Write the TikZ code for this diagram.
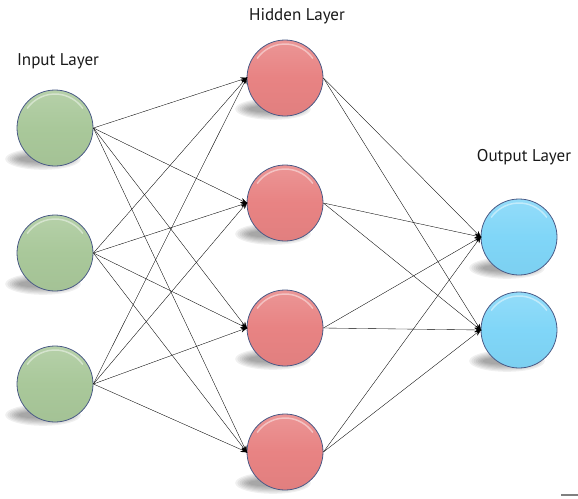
\documentclass[tikz,border=0pt]{standalone}
\usepackage{fontspec}
\setmainfont{PT Sans}
\usetikzlibrary{arrows.meta,calc}
\definecolor{ingreen}{HTML}{A9C89A}
\definecolor{hidred}{HTML}{E88383}
\definecolor{outblue}{HTML}{80D6F8}
\definecolor{rimcol}{HTML}{4A5A86}
\tikzset{
  neuron/.style={circle, minimum size=76pt, inner sep=0pt, draw=rimcol, line width=0.8pt},
  inneuron/.style={neuron, top color=ingreen!85!white, bottom color=ingreen!97!black, middle color=ingreen},
  hidneuron/.style={neuron, top color=hidred!85!white, bottom color=hidred!97!black, middle color=hidred},
  outneuron/.style={neuron, top color=outblue!85!white, bottom color=outblue!97!black, middle color=outblue},
  layerlabel/.style={font=\fontsize{17}{20}\selectfont, text=black!90},
  conn/.style={line width=0.35pt, black, -{Stealth[length=7pt,width=5pt]}, shorten >=-1pt},
}
\newcommand{\nshadow}[2]{%
  \foreach \k in {1,...,7}{
    \fill[black, opacity=0.06] ($(#1,#2)+(-12,31)$) ellipse[x radius={40-2.2*\k}, y radius={12-1.2*\k}];
  }}
\begin{document}
\begin{tikzpicture}[x=1pt,y=-1pt]
\useasboundingbox (0,0) rectangle (578,498);
% shadows
\foreach \cx/\cy in {55/128,55/253,55/384,285/78,285/203,285/328,285/452,519/237,519/330}{
  \nshadow{\cx}{\cy}
}
% nodes
\node[inneuron] (i1) at (55,128) {};
\node[inneuron] (i2) at (55,253) {};
\node[inneuron] (i3) at (55,384) {};
\node[hidneuron] (h1) at (285,78) {};
\node[hidneuron] (h2) at (285,203) {};
\node[hidneuron] (h3) at (285,328) {};
\node[hidneuron] (h4) at (285,452) {};
\node[outneuron] (o1) at (519,237) {};
\node[outneuron] (o2) at (519,330) {};
% highlights
\foreach \n in {i1,i2,i3,h1,h2,h3,h4,o1,o2}{
  \draw[white, opacity=0.45, line width=1.5pt] ($(\n.center)+(215:34)$) arc[start angle=215, end angle=325, radius=34];
}
% labels
\node[layerlabel] (li) at (58,61) {Input Layer};
\node[layerlabel] (lh) at (297,16) {Hidden Layer};
\node[layerlabel] (lo) at (524,157) {Output Layer};
% connections
\foreach \i in {i1,i2,i3}{
  \foreach \h in {h1,h2,h3,h4}{
    \draw[conn] (\i.east) -- (\h.west);
  }
}
\foreach \h in {h1,h2,h3,h4}{
  \foreach \o in {o1,o2}{
    \draw[conn] (\h.east) -- (\o.west);
  }
}
% small mark bottom right
\coordinate (m1) at (561,495);
\coordinate (m2) at (578,495);
\draw[gray, line width=1.2pt] (m1) -- (m2);
\end{tikzpicture}
\end{document}
